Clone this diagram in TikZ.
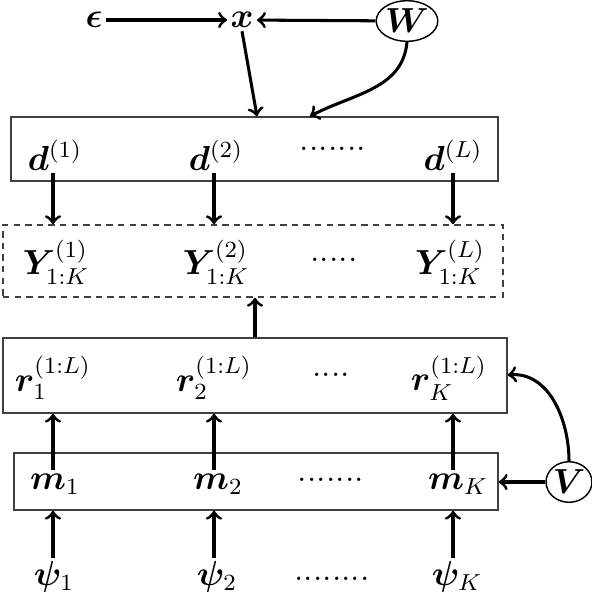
\documentclass[tikz,border=0pt]{standalone}
\usepackage{amsmath}
\usepackage{bm}
\usetikzlibrary{fit,shapes.geometric}
\begin{document}
\begin{tikzpicture}[x=0.345pt,y=-0.345pt,
  arr/.style={->,line width=1.05pt},
  boxs/.style={draw=black!75,line width=0.5pt,inner sep=0pt},
  dboxs/.style={draw=black!75,line width=0.55pt,inner sep=0pt,dash pattern=on 2.2pt off 1.8pt},
  lab/.style={inner sep=1pt,font=\large},
  dotsn/.style={inner sep=0pt,font=\large},
  var/.style={draw,line width=0.5pt,ellipse,inner sep=0pt,font=\large}]
\useasboundingbox (0,0) rectangle (592,592);
% top row
\node[lab] (eps) at (94,20) {$\bm{\epsilon}$};
\node[lab] (xx) at (242,20) {$\bm{x}$};
\node[var,minimum width=17pt,minimum height=14pt] (W) at (407,21) {$\bm{W}$};
% boxes
\node[boxs,fit={(11,117) (498,181)}] (box1) {};
\node[dboxs,fit={(3,225) (503,297)}] (box2) {};
\node[boxs,fit={(3,338) (507,413)}] (box3) {};
\node[boxs,fit={(14,453) (498,510)}] (box4) {};
% d row
\node[lab] (d1) at (55,155) {$\bm{d}^{(1)}$};
\node[lab] (d2) at (216,155) {$\bm{d}^{(2)}$};
\node[dotsn] (dd) at (333,149) {.......};
\node[lab] (dL) at (453,155) {$\bm{d}^{(L)}$};
% Y row
\node[lab] (Y1) at (56,262) {$\bm{Y}_{1:K}^{(1)}$};
\node[lab] (Y2) at (216,262) {$\bm{Y}_{1:K}^{(2)}$};
\node[dotsn] (Yd) at (334,260) {.....};
\node[lab] (YL) at (450,262) {$\bm{Y}_{1:K}^{(L)}$};
% r row
\node[lab] (r1) at (53,378) {$\bm{r}_{1}^{(1:L)}$};
\node[lab] (r2) at (214,378) {$\bm{r}_{2}^{(1:L)}$};
\node[dotsn] (rd) at (331,375) {....};
\node[lab] (rK) at (449,378) {$\bm{r}_{K}^{(1:L)}$};
% m row
\node[lab] (m1) at (55,484) {$\bm{m}_{1}$};
\node[lab] (m2) at (218,484) {$\bm{m}_{2}$};
\node[dotsn] (md) at (331,480) {.......};
\node[lab] (mK) at (458,484) {$\bm{m}_{K}$};
\node[var,minimum width=14pt,minimum height=14pt] (V) at (569,482) {$\bm{V}$};
% psi row
\node[lab] (p1) at (54,577) {$\bm{\psi}_{1}$};
\node[lab] (p2) at (217,577) {$\bm{\psi}_{2}$};
\node[dotsn] (pd) at (332,579) {........};
\node[lab] (pK) at (457,577) {$\bm{\psi}_{K}$};
% columns
\coordinate (c1) at (53,0);
\coordinate (c2) at (214,0);
\coordinate (c3) at (453,0);
% top arrows
\draw[arr] (eps) -- (xx);
\draw[arr] (W) -- (xx);
\draw[arr] (xx.south) -- (box1.north -| 257,0);
\draw[arr] (W.south) to[out=-95,in=28] (box1.north -| 310,0);
% d -> Y
\draw[arr] (c1 |- d1.south) -- (c1 |- box2.north);
\draw[arr] (c2 |- d2.south) -- (c2 |- box2.north);
\draw[arr] (c3 |- dL.south) -- (c3 |- box2.north);
% r box -> Y box
\draw[arr] (box3.north -| 255,0) -- (box2.south -| 255,0);
% m -> r
\draw[arr] (c1 |- m1.north) -- (c1 |- box3.south);
\draw[arr] (c2 |- m2.north) -- (c2 |- box3.south);
\draw[arr] (c3 |- mK.north) -- (c3 |- box3.south);
% psi -> m
\draw[arr] (c1 |- p1.north) -- (c1 |- box4.south);
\draw[arr] (c2 |- p2.north) -- (c2 |- box4.south);
\draw[arr] (c3 |- pK.north) -- (c3 |- box4.south);
% V arrows
\draw[arr] (V.west) -- (V.west -| box4.east);
\draw[arr] (V.north) to[out=90,in=5] (box3.east |- 0,375);
\end{tikzpicture}
\end{document}
